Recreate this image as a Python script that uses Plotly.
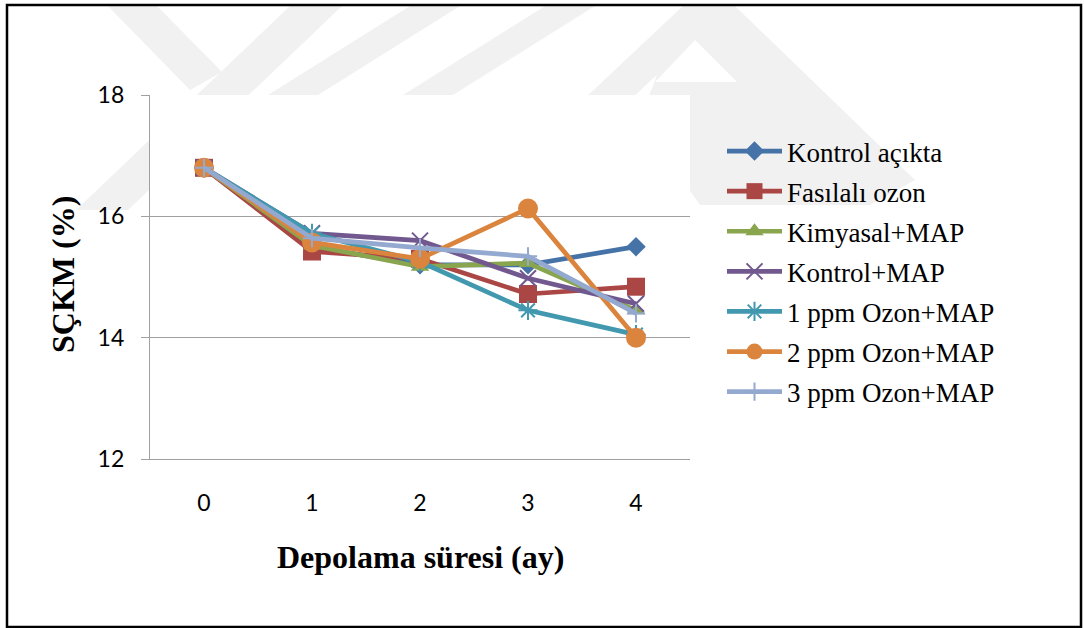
import plotly.graph_objects as go

W, H = 1084, 628
PL, PR, PT, PB = 150, 690, 95, 459  # plot area in pixels

months = ["0", "1", "2", "3", "4"]
series_names = ["Kontrol açıkta", "Fasılalı ozon", "Kimyasal+MAP", "Kontrol+MAP",
                "1 ppm Ozon+MAP", "2 ppm Ozon+MAP", "3 ppm Ozon+MAP"]
kontrol_acikta = [16.8, 15.50, 15.20, 15.20, 15.50]
fasilali_ozon = [16.8, 15.42, 15.30, 14.72, 14.84]
kimyasal_map = [16.8, 15.52, 15.17, 15.23, 14.45]
kontrol_map = [16.8, 15.72, 15.60, 14.98, 14.56]
ozon1_map = [16.8, 15.72, 15.25, 14.45, 14.05]
ozon2_map = [16.8, 15.57, 15.30, 16.13, 14.00]
ozon3_map = [16.8, 15.64, 15.48, 15.34, 14.40]
y_ticks = [12, 14, 16, 18]

values = [kontrol_acikta, fasilali_ozon, kimyasal_map, kontrol_map, ozon1_map, ozon2_map, ozon3_map]
colors = ["#4572A7", "#AA4643", "#89A54E", "#71588F", "#4198AF", "#DB843D", "#93A9CF"]
symbols = ["diamond", "square", "triangle-up", "x-thin-open", "asterisk-open", "circle", "cross-thin-open"]
sizes = [15, 18, 16, 16, 16, 20, 13]

fig = go.Figure()
for i, (name, vals) in enumerate(zip(series_names, values)):
    fig.add_trace(go.Scatter(
        x=months, y=vals, name=name, mode="lines+markers",
        legendgroup=f"g{i}",
        line=dict(color=colors[i], width=4.7),
        marker=dict(symbol=symbols[i], size=sizes[i], color=colors[i],
                    line=dict(color=colors[i], width=2 if "open" in symbols[i] else 0)),
    ))


def px(x, y):
    """pixel -> paper coordinates (paper is relative to the plot area)"""
    return (x - PL) / (PR - PL), (PB - y) / (PB - PT)


def poly_path(poly):
    pts = [px(x, y) for x, y in poly]
    return "M " + " L ".join(f"{a:.4f},{b:.4f}" for a, b in pts) + " Z"


WM = "#f1f1f1"
wm_polys = [
    [(108, 6), (157, 6), (222, 72), (190, 90)],
    [(290, 6), (342, 6), (128, 210), (76, 210)],
    [(410, 6), (460, 6), (310, 100), (260, 100)],
    [(545, 6), (595, 6), (445, 100), (395, 100)],
    [(683, 6), (730, 6), (630, 100), (583, 100)],
    [(683, 6), (735, 6), (915, 180), (870, 205), (700, 205), (640, 120)],
]
shapes = []
for poly in wm_polys:
    shapes.append(dict(type="path", xref="paper", yref="paper", path=poly_path(poly),
                       fillcolor=WM, line=dict(width=0), layer="below"))
# notch inside the watermark
shapes.append(dict(type="path", xref="paper", yref="paper",
                   path=poly_path([(695, 40), (655, 82), (737, 82)]),
                   fillcolor="white", line=dict(width=0), layer="below"))
# white plot area over the watermark
shapes.append(dict(type="rect", xref="paper", yref="paper", x0=0, y0=0, x1=1, y1=1,
                   fillcolor="white", line=dict(width=0), layer="below"))
# outer frame
fx0, fy0 = px(7, 5)
fx1, fy1 = px(1081, 627)
shapes.append(dict(type="rect", xref="paper", yref="paper", x0=fx0, y0=fy1, x1=fx1, y1=fy0,
                   line=dict(color="black", width=2.5), fillcolor="rgba(0,0,0,0)", layer="above"))

lx, ly = px(722, 127)
tx, _ = px(63, 0)
_, ty = px(0, 275)
bx, _ = px(420, 0)
_, by = px(0, 557)

fig.update_layout(
    width=W, height=H,
    margin=dict(l=PL, r=W - PR, t=PT, b=H - PB),
    paper_bgcolor="white", plot_bgcolor="rgba(0,0,0,0)",
    shapes=shapes,
    showlegend=True,
    legend=dict(
        x=lx, y=ly, xanchor="left", yanchor="top",
        font=dict(family="Liberation Serif", size=27, color="black"),
        bgcolor="rgba(0,0,0,0)", itemwidth=55, tracegroupgap=2,
        traceorder="grouped",
    ),
    xaxis=dict(
        type="category", range=[-0.5, 4.5],
        showline=True, linecolor="#a0a0a0", linewidth=1.3,
        showgrid=False, ticks="", ticklabelstandoff=23,
        tickfont=dict(family="Lato", size=23, color="black"),
        fixedrange=True,
    ),
    yaxis=dict(
        range=[12, 18], tickvals=y_ticks,
        showline=True, linecolor="#a0a0a0", linewidth=1.3,
        showgrid=True, gridcolor="#a0a0a0", gridwidth=1.3,
        ticks="outside", ticklen=8, tickcolor="#a0a0a0", tickwidth=1.3,
        ticklabelstandoff=12, zeroline=False,
        tickfont=dict(family="Lato", size=23, color="black"),
        fixedrange=True,
    ),
    annotations=[
        dict(text="<b>SÇKM (%)</b>", xref="paper", yref="paper",
             x=tx, y=ty, textangle=-90, showarrow=False,
             xanchor="center", yanchor="middle",
             font=dict(family="Liberation Serif", size=32, color="black")),
        dict(text="<b>Depolama süresi (ay)</b>", xref="paper", yref="paper",
             x=bx, y=by, showarrow=False,
             xanchor="center", yanchor="middle",
             font=dict(family="Liberation Serif", size=32, color="black")),
    ],
)

fig.write_html("out.html")
